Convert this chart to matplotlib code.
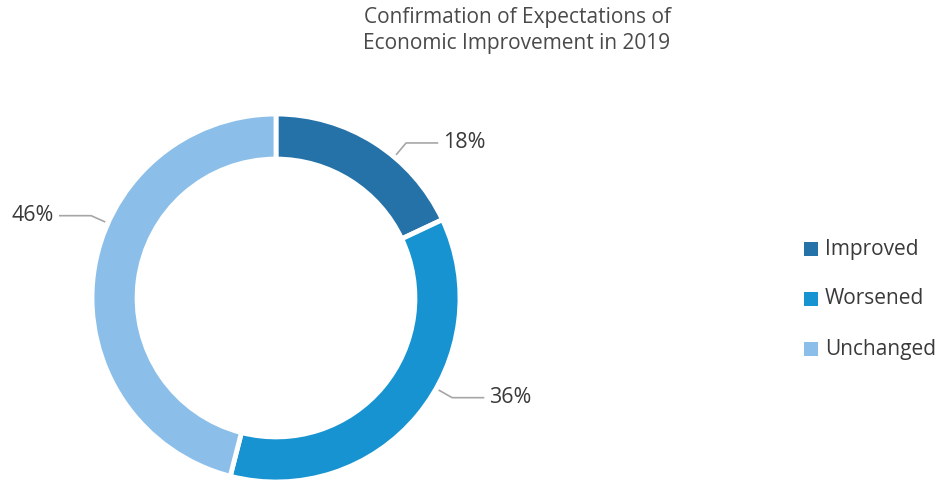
import numpy as np
import matplotlib.pyplot as plt
from matplotlib.patches import Rectangle

plt.rcParams['font.family'] = ['Open Sans', 'DejaVu Sans']

categories = ['Improved', 'Worsened', 'Unchanged']
shares = [18, 36, 46]
labels = ['18%', '36%', '46%']
colors = ['#2572a9', '#1793d1', '#8bbfe9']

# where the leader lines leave the ring (degrees, counterclockwise from east)
label_angles = [50, -29.5, 156]

W, H = 938, 484
fig = plt.figure(figsize=(W / 100, H / 100), dpi=100)

# donut axes: centre (276, 298) px, radius 184 px
cx, cy, R = 276, H - 298, 184
ax = fig.add_axes([(cx - R) / W, (cy - R) / H, 2 * R / W, 2 * R / H])
ax.pie(shares, colors=colors, startangle=90, counterclock=False, radius=1,
       wedgeprops=dict(width=0.245, edgecolor='white', linewidth=3.5))
ax.set_xlim(-1, 1)
ax.set_ylim(-1, 1)
ax.set_aspect('equal')
ax.axis('off')

for lab, a in zip(labels, np.radians(label_angles)):
    x0, y0 = 1.02 * np.cos(a), 1.02 * np.sin(a)
    x1, y1 = 1.1 * np.cos(a), 1.1 * np.sin(a)
    side = 1 if np.cos(a) > 0 else -1
    x2 = x1 + side * 0.17
    ax.plot([x0, x1, x2], [y0, y1, y1], color='#a6a6a6', lw=1.2, clip_on=False)
    ax.text(x2 + side * 0.03, y1, lab, ha='left' if side > 0 else 'right',
            va='center', fontsize=15.5, color='#3a3a3a', clip_on=False)

fig.text(517 / W, 1 - 18 / H, 'Confirmation of Expectations of', ha='center',
         va='center', fontsize=15, color='#4a4a4a')
fig.text(517 / W, 1 - 44 / H, 'Economic Improvement in 2019', ha='center',
         va='center', fontsize=15, color='#4a4a4a')

# legend
for i, (name, c) in enumerate(zip(categories, colors)):
    y = H - (249 + 50 * i)
    fig.patches.append(Rectangle((804 / W, (y - 7) / H), 14 / W, 14 / H,
                                 transform=fig.transFigure, facecolor=c,
                                 edgecolor='none'))
    fig.text(825 / W, y / H, name, ha='left', va='center', fontsize=15,
             color='#3a3a3a')

fig.savefig('out.png', dpi=100)
